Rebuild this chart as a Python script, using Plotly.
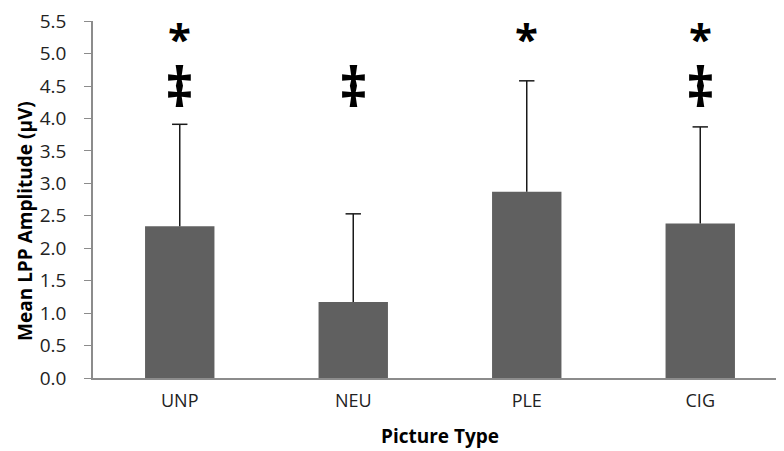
import plotly.graph_objects as go

categories = ["UNP", "NEU", "PLE", "CIG"]
means = [2.34, 1.17, 2.87, 2.38]
err_plus = [1.57, 1.36, 1.71, 1.49]
star_marks = ["*", "", "*", "*"]
dagger_marks = ["‡", "‡", "", "‡"]
y_ticks = [0.0, 0.5, 1.0, 1.5, 2.0, 2.5, 3.0, 3.5, 4.0, 4.5, 5.0, 5.5]

FONT = "Open Sans, Liberation Sans, sans-serif"

fig = go.Figure()
fig.add_trace(go.Bar(
    x=categories,
    y=means,
    marker=dict(color="#606060", line=dict(width=0)),
    hoverinfo="skip",
))

# upper-only whiskers (no cap at the bar top, like the original)
wx, wy = [], []
for c, m, e in zip(categories, means, err_plus):
    wx += [c, c, None]
    wy += [m, m + e, None]
fig.add_trace(go.Scatter(x=wx, y=wy, mode="lines",
                         line=dict(color="#1a1a1a", width=1.5), hoverinfo="skip"))
fig.add_trace(go.Scatter(x=categories, y=[m + e for m, e in zip(means, err_plus)],
                         mode="markers",
                         marker=dict(symbol="line-ew", size=11,
                                     line=dict(color="#1a1a1a", width=1.5)),
                         hoverinfo="skip"))

# significance marks
annots = []
for cat, s in zip(categories, star_marks):
    if s:
        annots.append(dict(x=cat, y=5.255, text="<b>" + s + "</b>", showarrow=False,
                           font=dict(size=42, color="black", family=FONT),
                           yanchor="middle", xanchor="center"))
for cat, d in zip(categories, dagger_marks):
    if d:
        annots.append(dict(x=cat, y=4.52, text="<b>" + d + "</b>", showarrow=False,
                           font=dict(size=56, color="black", family=FONT),
                           yanchor="middle", xanchor="center"))
annots.append(dict(text="<b>Mean LPP Amplitude (µV)</b>", textangle=-90,
                   xref="paper", yref="paper", x=-0.098, y=0.44,
                   xanchor="center", yanchor="middle", showarrow=False,
                   font=dict(size=19, color="black", family=FONT)))

fig.update_layout(
    width=784, height=451,
    margin=dict(l=85, r=5, t=13, b=81),
    paper_bgcolor="white", plot_bgcolor="white",
    bargap=0.6,
    showlegend=False,
    font=dict(family=FONT, size=19, color="#222222"),
    annotations=annots,
    xaxis=dict(
        automargin=False,
        showline=True, linecolor="#8c8c8c", linewidth=1.5,
        ticks="", tickfont=dict(size=18), ticklabelstandoff=6,
        title=dict(text="<b>Picture Type</b>", font=dict(size=19, color="black"), standoff=18),
    ),
    yaxis=dict(
        automargin=False,
        range=[0, 5.502], tickvals=y_ticks,
        ticktext=[f"{v:.1f}" for v in y_ticks],
        showgrid=False, zeroline=False,
        showline=True, linecolor="#8c8c8c", linewidth=1.5,
        ticks="outside", ticklen=7, tickcolor="#8c8c8c",
        tickfont=dict(size=19), ticklabelstandoff=14,
        ticklabeloverflow="allow",
    ),
)

fig.write_html("out.html")
